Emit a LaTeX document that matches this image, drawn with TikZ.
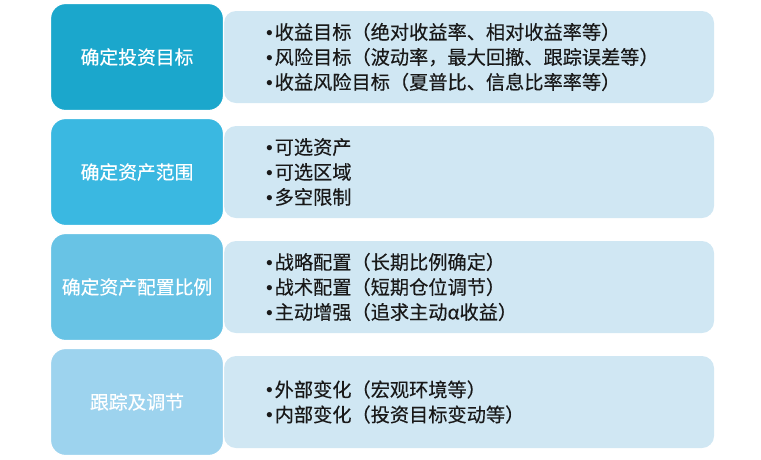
\documentclass[tikz,border=0pt]{standalone}
\usepackage{fontspec}
\setmainfont{Noto Sans CJK SC}[FakeBold=0.3]
\newfontfamily\latinf{Liberation Sans}
\newcommand\bul{{\latinf •}\hspace{2pt}}
\definecolor{cA}{RGB}{27,167,204}
\definecolor{cB}{RGB}{58,184,225}
\definecolor{cC}{RGB}{104,195,229}
\definecolor{cD}{RGB}{157,211,238}
\definecolor{rightc}{RGB}{208,231,243}
\definecolor{textc}{RGB}{25,25,25}
\tikzset{
  leftbox/.style={draw=white, line width=1.2pt, rounded corners=15pt,
    minimum width=173pt, minimum height=107pt, text=white, inner sep=0pt,
    font=\fontsize{18.8}{22}\selectfont},
  rightbox/.style={fill=rightc, rounded corners=12pt, minimum width=490pt,
    minimum height=92pt, inner sep=0pt},
  itemtext/.style={anchor=west, align=left, text=textc, inner sep=0pt,
    font=\fontsize{19.2}{25}\selectfont}
}
\begin{document}
\begin{tikzpicture}[x=1pt,y=-1pt]
\useasboundingbox (0,0) rectangle (761,459);
% right boxes
\node[rightbox] (r1) at (469,57) {};
\node[rightbox] (r2) at (469,172) {};
\node[rightbox] (r3) at (469,287) {};
\node[rightbox] (r4) at (469,402) {};
% left boxes
\node[leftbox, fill=cA] (l1) at (137,57) {确定投资目标};
\node[leftbox, fill=cB] (l2) at (137,172) {确定资产范围};
\node[leftbox, fill=cC] (l3) at (137,287) {确定资产配置比例};
\node[leftbox, fill=cD] (l4) at (137,402) {跟踪及调节};
% texts
\node[itemtext] (t1) at ([xshift=42pt]r1.west) {\bul 收益目标（绝对收益率、相对收益率等）\\\bul 风险目标（波动率，最大回撤、跟踪误差等）\\\bul 收益风险目标（夏普比、信息比率率等）};
\node[itemtext] (t2) at ([xshift=42pt]r2.west) {\bul 可选资产\\\bul 可选区域\\\bul 多空限制};
\node[itemtext] (t3) at ([xshift=42pt]r3.west) {\bul 战略配置（长期比例确定）\\\bul 战术配置（短期仓位调节）\\\bul 主动增强（追求主动α收益）};
\node[itemtext] (t4) at ([xshift=42pt]r4.west) {\bul 外部变化（宏观环境等）\\\bul 内部变化（投资目标变动等）};
\end{tikzpicture}
\end{document}
